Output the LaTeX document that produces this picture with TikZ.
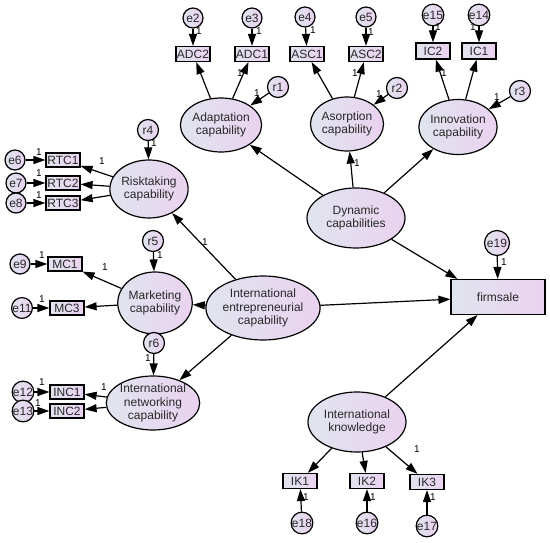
\documentclass[tikz,border=0pt]{standalone}
\usepackage{fontspec}
\setmainfont{Liberation Sans}
\usetikzlibrary{shapes.geometric,arrows.meta}
\definecolor{cL}{RGB}{224,228,238}
\definecolor{cR}{RGB}{234,210,240}
\definecolor{txt}{RGB}{40,40,40}
\tikzset{
  lat/.style={ellipse, draw, line width=1.2pt, left color=cL, right color=cR, text=txt, inner sep=0pt, align=center, font=\fontsize{12}{13.5}\selectfont},
  obs/.style={rectangle, draw, line width=1.2pt, left color=cL, right color=cR, text=txt, minimum width=34pt, minimum height=14pt, inner sep=0pt, font=\fontsize{12}{12}\selectfont},
  err/.style={circle, draw, line width=1.2pt, left color=cL, right color=cR, text=txt, minimum size=20pt, inner sep=0pt, font=\fontsize{12}{12}\selectfont},
  res/.style={err, minimum size=21pt},
  arr/.style={-{Triangle[length=12pt,width=8pt]}, line width=1.2pt},
  lbl/.style={font=\fontsize{10}{10}\selectfont, inner sep=0pt}
}
\begin{document}
\begin{tikzpicture}[x=1pt,y=-1pt]
\useasboundingbox (0,0) rectangle (550,543);
% latent
\node[lat, minimum width=70pt, minimum height=54pt] (adapt) at (221,125) {Adaptation\\capability};
\node[lat, minimum width=73pt, minimum height=54pt] (asorp) at (347,124) {Asorption\\capability};
\node[lat, minimum width=74pt, minimum height=55pt] (innov) at (458,127) {Innovation\\capability};
\node[lat, minimum width=98pt, minimum height=60pt] (dyn) at (356,218) {Dynamic\\capabilities};
\node[lat, minimum width=75pt, minimum height=58pt] (risk) at (149,189) {Risktaking\\capability};
\node[lat, minimum width=74pt, minimum height=62pt] (mkt) at (155,303) {Marketing\\capability};
\node[lat, minimum width=100pt, minimum height=64pt] (iec) at (263,308) {International\\entrepreneurial\\capability};
\node[lat, minimum width=73pt, minimum height=52pt] (net) at (153,403) {International\\networking\\capability};
\node[lat, minimum width=98pt, minimum height=60pt] (ik) at (357,422) {International\\knowledge};
% firmsale
\node[obs, minimum width=94pt, minimum height=35pt] (firm) at (498,297) {firmsale};
\node[err, minimum size=25pt] (e19) at (497,243) {e19};
% top indicators
\node[obs, minimum height=15pt] (adc2) at (193,54) {ADC2};
\node[obs, minimum height=15pt] (adc1) at (252,54) {ADC1};
\node[obs, minimum height=15pt] (asc1) at (307,54) {ASC1};
\node[obs, minimum height=15pt] (asc2) at (366,54) {ASC2};
\node[obs, minimum width=34pt, minimum height=16pt] (ic2) at (433,51) {IC2};
\node[obs, minimum width=34pt, minimum height=16pt] (ic1) at (479,51) {IC1};
\node[err] (e2) at (193,18) {e2};
\node[err] (e3) at (252,18) {e3};
\node[err] (e4) at (305,17) {e4};
\node[err] (e5) at (366,17) {e5};
\node[err] (e15) at (433,15) {e15};
\node[err] (e14) at (479,15) {e14};
\node[res] (r1) at (278,87) {r1};
\node[res] (r2) at (397,88) {r2};
\node[res] (r3) at (520,91) {r3};
% left
\node[res] (r4) at (148,130) {r4};
\node[obs] (rtc1) at (63,160) {RTC1};
\node[obs] (rtc2) at (63,183) {RTC2};
\node[obs] (rtc3) at (63,203) {RTC3};
\node[err] (e6) at (15,160) {e6};
\node[err] (e7) at (16,183) {e7};
\node[err] (e8) at (16,203) {e8};
\node[res] (r5) at (153,241) {r5};
\node[obs] (mc1) at (65,264) {MC1};
\node[obs] (mc3) at (67,308) {MC3};
\node[err] (e9) at (20,264) {e9};
\node[err] (e11) at (22,308) {e11};
\node[res] (r6) at (154,343) {r6};
\node[obs] (inc1) at (67,392) {INC1};
\node[obs] (inc2) at (67,411) {INC2};
\node[err] (e12) at (23,392) {e12};
\node[err] (e13) at (23,411) {e13};
% bottom
\node[obs, minimum height=15pt] (ik1) at (300,481) {IK1};
\node[obs, minimum height=15pt] (ik2) at (367,481) {IK2};
\node[obs, minimum height=15pt] (ik3) at (427,482) {IK3};
\node[err] (e18) at (302,523) {e18};
\node[err] (e16) at (367,523) {e16};
\node[err] (e17) at (427,526) {e17};
% error arrows
\foreach \a/\b in {e2/adc2,e3/adc1,e4/asc1,e5/asc2,e15/ic2,e14/ic1,e6/rtc1,e7/rtc2,e8/rtc3,e9/mc1,e11/mc3,e12/inc1,e13/inc2,e18/ik1,e16/ik2,e17/ik3,e19/firm,r1/adapt,r2/asorp,r3/innov,r4/risk,r5/mkt,r6/net}
  \draw[arr] (\a) -- (\b);
% loadings
\foreach \a/\b in {adapt/adc2,adapt/adc1,asorp/asc1,asorp/asc2,innov/ic2,innov/ic1,risk/rtc1,risk/rtc2,risk/rtc3,mkt/mc1,mkt/mc3,net/inc1,net/inc2,ik/ik1,ik/ik2,ik/ik3}
  \draw[arr] (\a) -- (\b);
% structural
\foreach \a/\b in {dyn/adapt,dyn/asorp,dyn/innov,iec/risk,iec/mkt,iec/net,iec/firm,ik/firm}
  \draw[arr] (\a) -- (\b);
\coordinate (firmnw) at ([xshift=7pt]firm.north west);
\draw[arr] (dyn) -- (firmnw);
% labels "1"
\foreach \x/\y in {199/31,259/31,313/30,371/32,438/27,473/27,240/73,355/73,444/73,257/93,379/94,497/97,357/163,154/143,102/161,39/152,39/173,39/195,205/242,160/255,105/267,42/255,42/299,148/358,104/387,42/382,38/403,504/262,417/449,306/497,373/497,433/497}
  \node[lbl] at (\x,\y) {1};
\end{tikzpicture}
\end{document}
